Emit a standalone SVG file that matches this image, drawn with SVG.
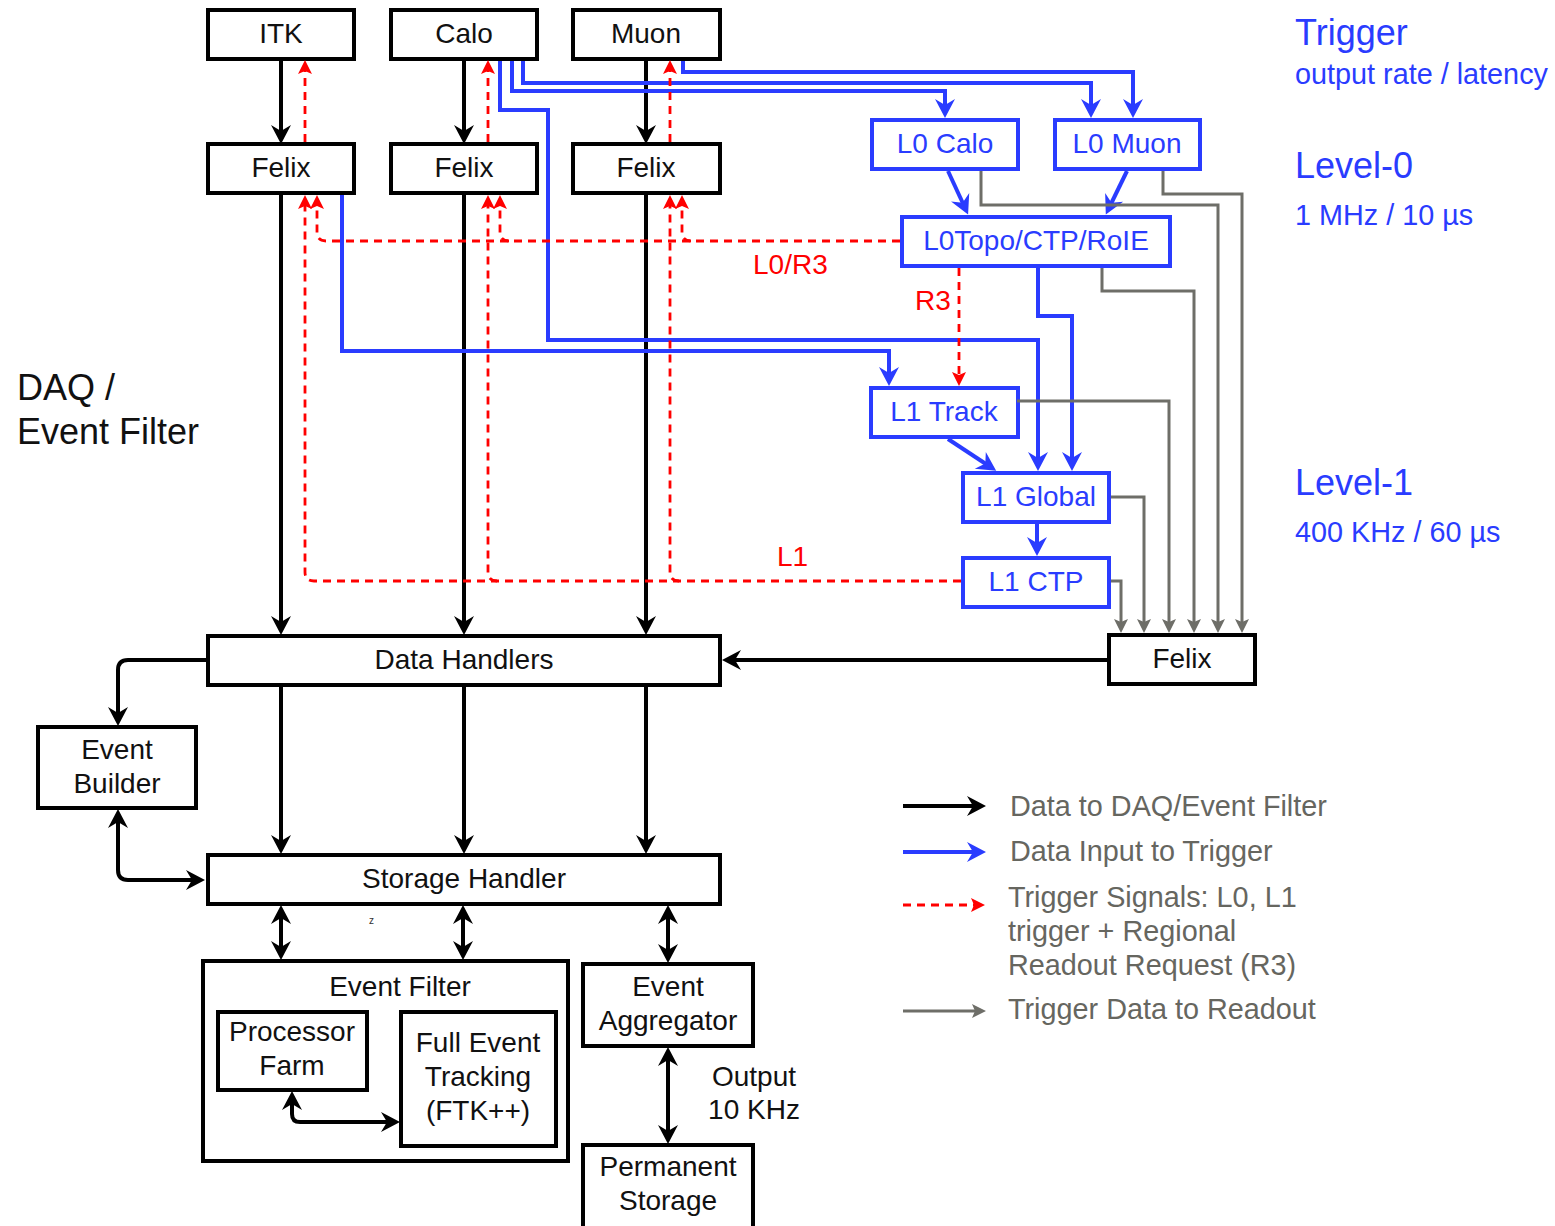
<svg xmlns="http://www.w3.org/2000/svg" width="1555" height="1226" viewBox="0 0 1555 1226">
<style>
  text { font-family: "Liberation Sans", Arial, Helvetica, sans-serif; }
  .bx { fill: #ffffff; stroke: #000000; stroke-width: 4; }
  .bb { fill: #ffffff; stroke: #2a3cff; stroke-width: 4; }
  .t { font-size: 28px; fill: #111111; text-anchor: middle; }
  .tb { font-size: 28px; fill: #2a3cff; text-anchor: middle; }
  .cb { fill: none; stroke: #000000; stroke-width: 4; }
  .cu { fill: none; stroke: #2a3cff; stroke-width: 4; }
  .cr { fill: none; stroke: #ff0000; stroke-width: 2.8; stroke-dasharray: 8 6; }
  .cg { fill: none; stroke: #6e6e68; stroke-width: 3; }
  .lbl { font-size: 28px; fill: #ff0000; }
  .side { fill: #2a3cff; }
  .leg { font-size: 28.8px; fill: #66665f; }
</style>
<defs>
  <marker id="mk" markerUnits="userSpaceOnUse" orient="auto-start-reverse" markerWidth="40" markerHeight="40" viewBox="-20 -20 40 40" refX="0" refY="0" overflow="visible">
    <path d="M5,0 L-14,-10 L-8,0 L-14,10 Z" fill="#000000"/>
  </marker>
  <marker id="mu" markerUnits="userSpaceOnUse" orient="auto-start-reverse" markerWidth="40" markerHeight="40" viewBox="-20 -20 40 40" refX="0" refY="0" overflow="visible">
    <path d="M5,0 L-14,-10 L-8,0 L-14,10 Z" fill="#2a3cff"/>
  </marker>
  <marker id="mr" markerUnits="userSpaceOnUse" orient="auto" markerWidth="40" markerHeight="40" viewBox="-20 -20 40 40" refX="0" refY="0" overflow="visible">
    <path d="M4,0 L-10,-7 L-7,0 L-10,7 Z" fill="#ff0000"/>
  </marker>
  <marker id="mg" markerUnits="userSpaceOnUse" orient="auto" markerWidth="40" markerHeight="40" viewBox="-20 -20 40 40" refX="0" refY="0" overflow="visible">
    <path d="M4,0 L-10,-7 L-7,0 L-10,7 Z" fill="#6e6e68"/>
  </marker>
</defs>

<!-- Nodes -->
<g id="itk"><rect class="bx" x="208" y="10" width="146" height="49"/><text class="t" x="281" y="43">ITK</text></g>
<g id="calo"><rect class="bx" x="391" y="10" width="146" height="49"/><text class="t" x="464" y="43">Calo</text></g>
<g id="muon"><rect class="bx" x="573" y="10" width="147" height="49"/><text class="t" x="646" y="43">Muon</text></g>
<g id="felix1"><rect class="bx" x="208" y="144" width="146" height="49"/><text class="t" x="281" y="177">Felix</text></g>
<g id="felix2"><rect class="bx" x="391" y="144" width="146" height="49"/><text class="t" x="464" y="177">Felix</text></g>
<g id="felix3"><rect class="bx" x="573" y="144" width="147" height="49"/><text class="t" x="646" y="177">Felix</text></g>
<g id="l0calo"><rect class="bb" x="872" y="120" width="146" height="49"/><text class="tb" x="945" y="153">L0 Calo</text></g>
<g id="l0muon"><rect class="bb" x="1055" y="120" width="145" height="49"/><text class="tb" x="1127" y="153">L0 Muon</text></g>
<g id="l0topo"><rect class="bb" x="902" y="217" width="268" height="49"/><text class="tb" x="1036" y="250">L0Topo/CTP/RoIE</text></g>
<g id="l1track"><rect class="bb" x="871" y="388" width="147" height="49"/><text class="tb" x="944" y="421">L1 Track</text></g>
<g id="l1global"><rect class="bb" x="963" y="473" width="146" height="49"/><text class="tb" x="1036" y="506">L1 Global</text></g>
<g id="l1ctp"><rect class="bb" x="963" y="558" width="146" height="49"/><text class="tb" x="1036" y="591">L1 CTP</text></g>
<g id="felix4"><rect class="bx" x="1109" y="635" width="146" height="49"/><text class="t" x="1182" y="668">Felix</text></g>
<g id="datahandlers"><rect class="bx" x="208" y="636" width="512" height="49"/><text class="t" x="464" y="669">Data Handlers</text></g>
<g id="storagehandler"><rect class="bx" x="208" y="855" width="512" height="49"/><text class="t" x="464" y="888">Storage Handler</text></g>
<g id="eventbuilder"><rect class="bx" x="38" y="727" width="158" height="81"/><text class="t" x="117" y="759">Event</text><text class="t" x="117" y="793">Builder</text></g>
<g id="eventfilter"><rect class="bx" x="203" y="961" width="365" height="200"/><text class="t" x="400" y="996">Event Filter</text></g>
<g id="processorfarm"><rect class="bx" x="218" y="1012" width="149" height="78"/><text class="t" x="292" y="1041">Processor</text><text class="t" x="292" y="1075">Farm</text></g>
<g id="fulleventtracking"><rect class="bx" x="401" y="1012" width="155" height="134"/><text class="t" x="478" y="1052">Full Event</text><text class="t" x="478" y="1086">Tracking</text><text class="t" x="478" y="1120">(FTK++)</text></g>
<g id="eventaggregator"><rect class="bx" x="583" y="964" width="170" height="82"/><text class="t" x="668" y="996">Event</text><text class="t" x="668" y="1030">Aggregator</text></g>
<g id="permanentstorage"><rect class="bx" x="583" y="1145" width="170" height="86"/><text class="t" x="668" y="1176">Permanent</text><text class="t" x="668" y="1210">Storage</text></g>

<!-- Connectors -->
<g id="connectors">
  <!-- black data paths -->
  <path class="cb" d="M281,61 V139" marker-end="url(#mk)"/>
  <path class="cb" d="M464,61 V139" marker-end="url(#mk)"/>
  <path class="cb" d="M646,61 V139" marker-end="url(#mk)"/>
  <path class="cb" d="M281,195 V630" marker-end="url(#mk)"/>
  <path class="cb" d="M464,195 V630" marker-end="url(#mk)"/>
  <path class="cb" d="M646,195 V630" marker-end="url(#mk)"/>
  <path class="cb" d="M281,687 V849" marker-end="url(#mk)"/>
  <path class="cb" d="M464,687 V849" marker-end="url(#mk)"/>
  <path class="cb" d="M646,687 V849" marker-end="url(#mk)"/>
  <path class="cb" d="M206,660 H128 Q118,660 118,670 V721" marker-end="url(#mk)"/>
  <path class="cb" d="M118,814 V870 Q118,880 128,880 H200" marker-start="url(#mk)" marker-end="url(#mk)"/>
  <path class="cb" d="M281,910 V955" marker-start="url(#mk)" marker-end="url(#mk)"/>
  <path class="cb" d="M463,910 V955" marker-start="url(#mk)" marker-end="url(#mk)"/>
  <path class="cb" d="M668,910 V958" marker-start="url(#mk)" marker-end="url(#mk)"/>
  <path class="cb" d="M668,1052 V1139" marker-start="url(#mk)" marker-end="url(#mk)"/>
  <path class="cb" d="M292,1096 V1114 Q292,1122 300,1122 H395" marker-start="url(#mk)" marker-end="url(#mk)"/>
  <path class="cb" d="M1107,660 H727" marker-end="url(#mk)"/>

  <!-- blue trigger inputs -->
  <path class="cu" d="M683,61 V72 H1133 V113" marker-end="url(#mu)"/>
  <path class="cu" d="M523,61 V83 H1091 V113" marker-end="url(#mu)"/>
  <path class="cu" d="M512,61 V91 H945 V113" marker-end="url(#mu)"/>
  <path class="cu" d="M500,61 V110 H548 V340 H1038 V466" marker-end="url(#mu)"/>
  <path class="cu" d="M342,195 V351 H889 V381" marker-end="url(#mu)"/>
  <path class="cu" d="M948,171 L966,210" marker-end="url(#mu)"/>
  <path class="cu" d="M1127,171 L1108,210" marker-end="url(#mu)"/>
  <path class="cu" d="M1038,268 V316 H1072 V466" marker-end="url(#mu)"/>
  <path class="cu" d="M948,439 L992,468" marker-end="url(#mu)"/>
  <path class="cu" d="M1037,524 V551" marker-end="url(#mu)"/>

  <!-- red trigger signals -->
  <path class="cr" d="M305,142 V64" marker-end="url(#mr)"/>
  <path class="cr" d="M488,142 V64" marker-end="url(#mr)"/>
  <path class="cr" d="M670,142 V64" marker-end="url(#mr)"/>
  <path class="cr" d="M900,241 H326 Q317,241 317,232 V199" marker-end="url(#mr)"/>
  <path class="cr" d="M509,241 Q500,241 500,232 V199" marker-end="url(#mr)"/>
  <path class="cr" d="M691,241 Q682,241 682,232 V199" marker-end="url(#mr)"/>
  <path class="cr" d="M961,581 H314 Q305,581 305,572 V199" marker-end="url(#mr)"/>
  <path class="cr" d="M497,581 Q488,581 488,572 V199" marker-end="url(#mr)"/>
  <path class="cr" d="M679,581 Q670,581 670,572 V199" marker-end="url(#mr)"/>
  <path class="cr" d="M959,268 V382" marker-end="url(#mr)"/>

  <!-- gray trigger data to readout -->
  <path class="cg" d="M1111,581 H1121 V629" marker-end="url(#mg)"/>
  <path class="cg" d="M1111,497 H1144 V629" marker-end="url(#mg)"/>
  <path class="cg" d="M1017,401 H1169 V629" marker-end="url(#mg)"/>
  <path class="cg" d="M1102,268 V291 H1194 V629" marker-end="url(#mg)"/>
  <path class="cg" d="M981,171 V205 H1218 V629" marker-end="url(#mg)"/>
  <path class="cg" d="M1163,171 V194 H1242 V629" marker-end="url(#mg)"/>

  <!-- legend lines -->
  <path class="cb" d="M903,806 H981" marker-end="url(#mk)"/>
  <path class="cu" d="M903,852 H981" marker-end="url(#mu)"/>
  <path class="cr" d="M903,905 H981" marker-end="url(#mr)"/>
  <path class="cg" d="M903,1011 H982" marker-end="url(#mg)"/>
</g>

<!-- Connector labels -->
<text class="lbl" x="753" y="274">L0/R3</text>
<text class="lbl" x="915" y="310">R3</text>
<text class="lbl" x="777" y="566">L1</text>
<text x="369" y="924" style="font-size:10px;fill:#333333">z</text>

<!-- Side annotations -->
<text class="side" x="1295" y="45" style="font-size:36px">Trigger</text>
<text class="side" x="1295" y="84" style="font-size:28.8px">output rate / latency</text>
<text class="side" x="1295" y="178" style="font-size:36px">Level-0</text>
<text class="side" x="1295" y="225" style="font-size:28.8px">1 MHz / 10 µs</text>
<text class="side" x="1295" y="495" style="font-size:36px">Level-1</text>
<text class="side" x="1295" y="542" style="font-size:28.8px">400 KHz / 60 µs</text>
<text x="17" y="400" style="font-size:36px;fill:#111111">DAQ /</text>
<text x="17" y="444" style="font-size:36px;fill:#111111">Event Filter</text>
<text x="754" y="1086" class="t">Output</text>
<text x="754" y="1119" class="t">10 KHz</text>

<!-- Legend text -->
<text class="leg" x="1010" y="816">Data to DAQ/Event Filter</text>
<text class="leg" x="1010" y="861">Data Input to Trigger</text>
<text class="leg" x="1008" y="907">Trigger Signals: L0, L1</text>
<text class="leg" x="1008" y="941">trigger + Regional</text>
<text class="leg" x="1008" y="975">Readout Request (R3)</text>
<text class="leg" x="1008" y="1019">Trigger Data to Readout</text>
</svg>
